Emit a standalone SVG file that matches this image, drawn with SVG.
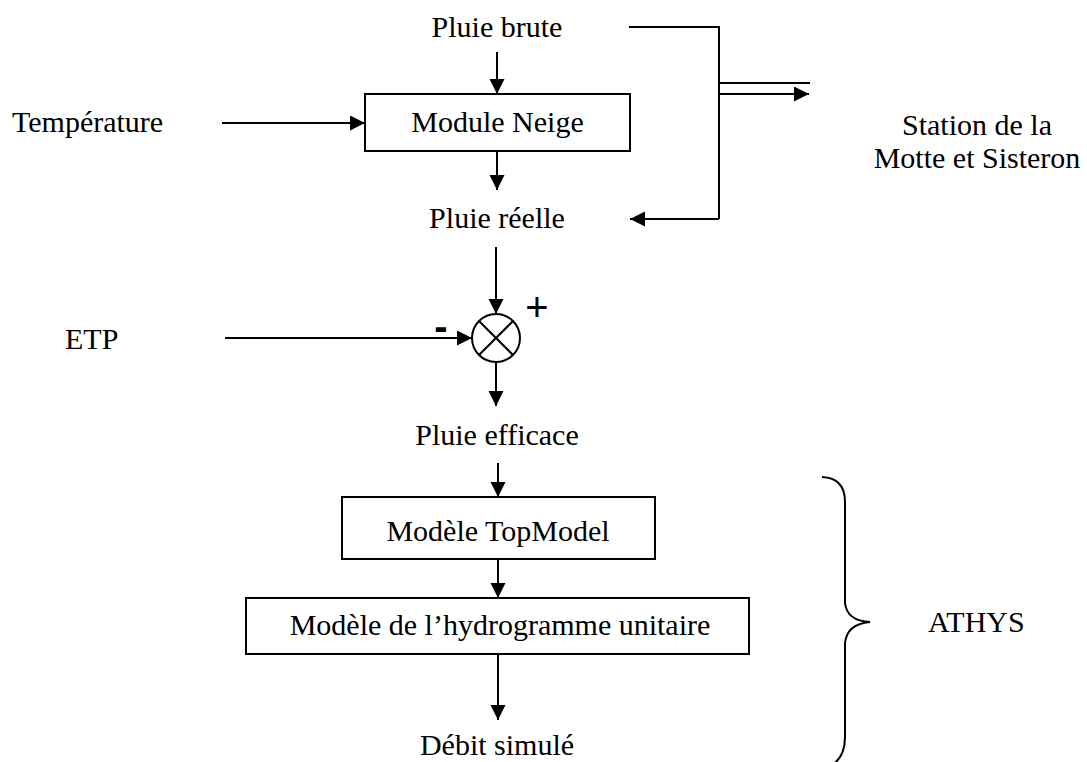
<svg xmlns="http://www.w3.org/2000/svg" width="1087" height="762" viewBox="0 0 1087 762">
<style>
text{font-family:"Liberation Serif","Times New Roman",serif;font-size:30px;fill:#000}
.c{text-anchor:middle}
.s{font-family:"Liberation Sans",Arial,sans-serif}
.box{fill:#fff;stroke:#000;stroke-width:2}
.ln{fill:none;stroke:#000;stroke-width:2}
.ar{fill:none;stroke:#000;stroke-width:2;marker-end:url(#ah)}
</style>
<defs>
<marker id="ah" markerUnits="userSpaceOnUse" markerWidth="16" markerHeight="16" refX="15" refY="7.5" orient="auto">
<path d="M0,0 L15,7.5 L0,15 z" fill="#000"/>
</marker>
</defs>
<rect width="1087" height="762" fill="#fff"/>
<g id="connectors">
<line class="ar" x1="497" y1="52" x2="497" y2="94"/>
<line class="ar" x1="222" y1="123" x2="365" y2="123"/>
<line class="ar" x1="497" y1="151" x2="497" y2="190"/>
<polyline class="ln" points="629,27 719,27 719,219"/>
<line class="ar" x1="719" y1="219" x2="630" y2="219"/>
<line class="ln" x1="719" y1="83" x2="810" y2="83"/>
<line class="ar" x1="719" y1="94" x2="809" y2="94"/>
<line class="ar" x1="496" y1="247" x2="496" y2="314"/>
<line class="ar" x1="225" y1="338" x2="472" y2="338"/>
<line class="ar" x1="496" y1="362" x2="496" y2="406"/>
<line class="ar" x1="498" y1="463" x2="498" y2="497"/>
<line class="ar" x1="498" y1="559" x2="498" y2="598"/>
<line class="ar" x1="498" y1="654" x2="498" y2="720"/>
<path class="ln" d="M822 477 Q845 478 845 502 L845 603 Q847 621 870 622 Q847 624 845 643 L845 737 Q845 757 832 765"/>
</g>
<g id="pluie-brute"><text class="c" x="497" y="37">Pluie brute</text></g>
<g id="temperature"><text x="12" y="132">Température</text></g>
<g id="module-neige"><rect class="box" x="365" y="94" width="265" height="57"/><text class="c" x="497.5" y="132">Module Neige</text></g>
<g id="station"><text class="c" x="977" y="135">Station de la</text><text class="c" x="977" y="168">Motte et Sisteron</text></g>
<g id="pluie-reelle"><text class="c" x="497" y="228">Pluie réelle</text></g>
<g id="etp"><text x="65" y="349">ETP</text></g>
<g id="sum">
<circle cx="496" cy="338" r="24" fill="#fff" stroke="#000" stroke-width="2"/>
<line class="ln" x1="479" y1="321" x2="513" y2="355"/>
<line class="ln" x1="513" y1="321" x2="479" y2="355"/>
<text class="s c" x="537" y="321" style="font-size:40px">+</text>
<text class="s c" x="441" y="340" style="font-size:40px;font-weight:bold">-</text>
</g>
<g id="pluie-efficace"><text class="c" x="497" y="445">Pluie efficace</text></g>
<g id="topmodel"><rect class="box" x="342" y="497" width="313" height="62"/><text class="c" x="498" y="541">Modèle TopModel</text></g>
<g id="hydrogramme"><rect class="box" x="246" y="598" width="503" height="56"/><text class="c" x="500" y="635">Modèle de l’hydrogramme unitaire</text></g>
<g id="debit"><text class="c" x="497" y="755">Débit simulé</text></g>
<g id="athys"><text x="928" y="632">ATHYS</text></g>
</svg>
